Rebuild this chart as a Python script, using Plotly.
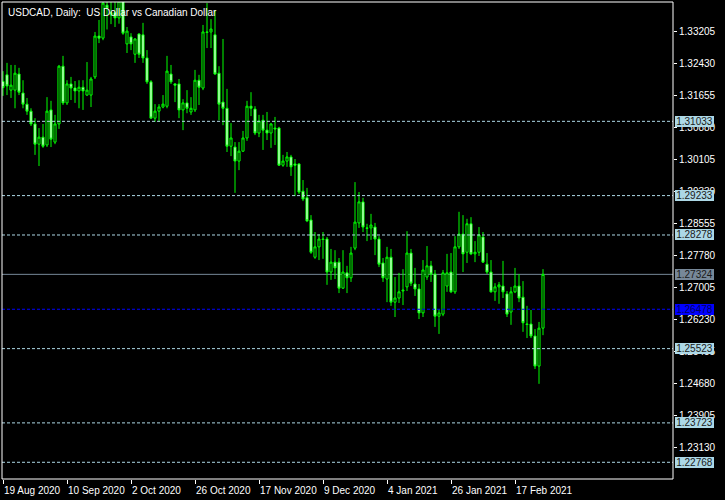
import pandas as pd
import plotly.graph_objects as go

# ---- data (USDCAD daily) ----
open_ = [1.3200,1.3216,1.3179,1.3179,1.3218,1.3172,1.3145,1.3128,1.3097,1.3048,
         1.3065,1.3046,1.3131,1.3053,1.3097,1.3237,1.3148,1.3194,1.3184,1.3177,
         1.3186,1.3167,1.3167,1.3211,1.3310,1.3305,1.3385,1.3361,1.3367,1.3354,
         1.3395,1.3291,1.3308,1.3266,1.3315,1.3313,1.3257,1.3199,1.3111,1.3128,
         1.3138,1.3140,1.3218,1.3194,1.3194,1.3131,1.3148,1.3126,1.3131,1.3203,
         1.3184,1.3320,1.3320,1.3313,1.3220,1.3150,1.3135,1.3043,1.3041,1.3007,
         1.3031,1.3063,1.3140,1.3133,1.3075,1.3106,1.3082,1.3075,1.3087,1.3087,
         1.2997,1.3007,1.3017,1.3000,1.3000,1.2934,1.2918,1.2864,1.2774,1.2799,
         1.2818,1.2818,1.2738,1.2762,1.2762,1.2699,1.2736,1.2724,1.2796,1.2857,
         1.2908,1.2845,1.2845,1.2847,1.2818,1.2760,1.2721,1.2774,1.2665,1.2675,
         1.2692,1.2702,1.2784,1.2709,1.2697,1.2639,1.2726,1.2753,1.2733,1.2631,
         1.2636,1.2704,1.2738,1.2690,1.2799,1.2830,1.2786,1.2855,1.2782,1.2786,
         1.2823,1.2757,1.2738,1.2690,1.2702,1.2704,1.2685,1.2641,1.2690,1.2704,
         1.2677,1.2612,1.2612,1.2583,1.2510,1.2602]
high = [1.3225,1.3245,1.3240,1.3240,1.3233,1.3203,1.3160,1.3135,1.3111,1.3087,
        1.3097,1.3162,1.3153,1.3119,1.3240,1.3262,1.3203,1.3211,1.3201,1.3203,
        1.3203,1.3247,1.3211,1.3320,1.3349,1.3410,1.3420,1.3398,1.3400,1.3410,
        1.3405,1.3332,1.3317,1.3305,1.3317,1.3342,1.3276,1.3203,1.3145,1.3145,
        1.3167,1.3262,1.3240,1.3196,1.3206,1.3157,1.3179,1.3162,1.3228,1.3216,
        1.3337,1.3390,1.3351,1.3373,1.3237,1.3303,1.3182,1.3099,1.3053,1.3053,
        1.3080,1.3153,1.3174,1.3140,1.3119,1.3119,1.3126,1.3099,1.3114,1.3090,
        1.3022,1.3029,1.3022,1.3012,1.3002,1.2961,1.2942,1.2876,1.2835,1.2830,
        1.2835,1.2823,1.2794,1.2791,1.2772,1.2791,1.2753,1.2799,1.2956,1.2932,
        1.2918,1.2855,1.2879,1.2857,1.2825,1.2772,1.2799,1.2794,1.2726,1.2736,
        1.2745,1.2837,1.2794,1.2748,1.2709,1.2767,1.2801,1.2765,1.2743,1.2648,
        1.2743,1.2782,1.2784,1.2825,1.2884,1.2876,1.2867,1.2871,1.2813,1.2847,
        1.2835,1.2784,1.2767,1.2711,1.2714,1.2765,1.2692,1.2702,1.2748,1.2733,
        1.2716,1.2656,1.2646,1.2600,1.2617,1.2745]
low = [1.3165,1.3167,1.3160,1.3135,1.3167,1.3135,1.3119,1.3092,1.3022,1.2995,
       1.3039,1.3041,1.3041,1.3048,1.3085,1.3143,1.3143,1.3155,1.3148,1.3135,
       1.3131,1.3165,1.3138,1.3206,1.3293,1.3300,1.3326,1.3339,1.3332,1.3340,
       1.3313,1.3269,1.3276,1.3245,1.3257,1.3245,1.3194,1.3111,1.3102,1.3102,
       1.3135,1.3135,1.3194,1.3150,1.3111,1.3082,1.3123,1.3119,1.3126,1.3143,
       1.3179,1.3281,1.3281,1.3216,1.3106,1.3094,1.3029,1.3019,1.2930,1.2985,
       1.3029,1.3056,1.3116,1.3070,1.3065,1.3034,1.3058,1.3039,1.3046,1.2995,
       1.2993,1.2993,1.2971,1.2922,1.2927,1.2910,1.2859,1.2782,1.2770,1.2767,
       1.2770,1.2707,1.2719,1.2721,1.2687,1.2697,1.2687,1.2714,1.2791,1.2845,
       1.2835,1.2813,1.2816,1.2779,1.2750,1.2714,1.2665,1.2656,1.2629,1.2663,
       1.2658,1.2692,1.2704,1.2680,1.2624,1.2629,1.2719,1.2714,1.2605,1.2588,
       1.2631,1.2690,1.2687,1.2685,1.2794,1.2738,1.2760,1.2779,1.2762,1.2777,
       1.2760,1.2733,1.2688,1.2668,1.2661,1.2675,1.2629,1.2610,1.2687,1.2665,
       1.2593,1.2578,1.2578,1.2503,1.2467,1.2585]
close = [1.3185,1.3189,1.3191,1.3220,1.3174,1.3145,1.3128,1.3097,1.3048,1.3065,
         1.3043,1.3128,1.3060,1.3097,1.3237,1.3148,1.3194,1.3184,1.3177,1.3186,
         1.3177,1.3179,1.3206,1.3310,1.3305,1.3390,1.3378,1.3367,1.3354,1.3395,
         1.3317,1.3322,1.3291,1.3303,1.3266,1.3257,1.3199,1.3111,1.3128,1.3138,
         1.3145,1.3225,1.3199,1.3191,1.3131,1.3148,1.3135,1.3135,1.3203,1.3186,
         1.3320,1.3319,1.3327,1.3218,1.3145,1.3135,1.3043,1.3063,1.3007,1.3031,
         1.3063,1.3140,1.3135,1.3075,1.3104,1.3082,1.3075,1.3097,1.3085,1.2997,
         1.3007,1.3017,1.2993,1.2997,1.2932,1.2915,1.2862,1.2786,1.2799,1.2818,
         1.2817,1.2738,1.2762,1.2748,1.2699,1.2738,1.2724,1.2784,1.2859,1.2908,
         1.2847,1.2844,1.2852,1.2818,1.2757,1.2724,1.2774,1.2665,1.2675,1.2690,
         1.2694,1.2784,1.2711,1.2697,1.2639,1.2743,1.2753,1.2733,1.2631,1.2639,
         1.2736,1.2736,1.2690,1.2799,1.2830,1.2782,1.2855,1.2782,1.2786,1.2828,
         1.2762,1.2738,1.2690,1.2702,1.2707,1.2690,1.2636,1.2690,1.2704,1.2675,
         1.2615,1.2611,1.2583,1.2510,1.2602,1.27324]

holidays = ["2020-12-25", "2021-01-01"]
dates = [d for d in pd.bdate_range("2020-08-19", "2021-02-26") if d.strftime("%Y-%m-%d") not in holidays]

date_tick_labels = ["19 Aug 2020", "10 Sep 2020", "2 Oct 2020", "26 Oct 2020", "17 Nov 2020",
                    "9 Dec 2020", "4 Jan 2021", "26 Jan 2021", "17 Feb 2021"]
price_ticks = [1.33205, 1.32430, 1.31655, 1.30880, 1.30105, 1.29330, 1.28555, 1.27780,
               1.27005, 1.26230, 1.25455, 1.24680, 1.23905, 1.23130]
levels = [1.31033, 1.29233, 1.28278, 1.25523, 1.23723, 1.22768]
bid_level = 1.27324
blue_level = 1.26478
title_text = "USDCAD, Daily:  US Dollar vs Canadian Dollar"

# ---- figure ----
xs = list(range(len(dates)))
date_str = [f"{d.day} {d.strftime('%b %Y')}" for d in dates]
tick_pos = [date_str.index(t) for t in date_tick_labels]

FONT = "Liberation Sans"
GREEN = "#00ff00"

fig = go.Figure()
fig.add_trace(go.Candlestick(
    x=xs, open=open_, high=high, low=low, close=close,
    increasing=dict(line=dict(color=GREEN, width=1), fillcolor="#000000"),
    decreasing=dict(line=dict(color=GREEN, width=1), fillcolor="#ffffff"),
    whiskerwidth=0, hoverinfo="skip", showlegend=False,
))

shapes = []
for lv in levels:
    shapes.append(dict(type="line", xref="paper", x0=0, x1=1, yref="y", y0=lv, y1=lv,
                       line=dict(color="#add8e6", width=1, dash="3px,2px"), layer="above"))
shapes.append(dict(type="line", xref="paper", x0=0, x1=1, yref="y", y0=bid_level, y1=bid_level,
                   line=dict(color="#778899", width=1), layer="below"))
shapes.append(dict(type="line", xref="paper", x0=0, x1=1, yref="y", y0=blue_level, y1=blue_level,
                   line=dict(color="#0000ff", width=1, dash="3px,2px"), layer="above"))
# white frame
shapes.append(dict(type="rect", xref="paper", yref="paper", x0=0, x1=1, y0=0, y1=1,
                   line=dict(color="#ffffff", width=1), layer="above"))

annotations = []
def level_label(val, bg, fg):
    return dict(xref="paper", x=1, xanchor="left", xshift=2, yref="y", y=val, yanchor="middle",
                text=f"{val:.5f}", showarrow=False, bgcolor=bg, width=39, height=11,
                borderpad=0, borderwidth=0, align="center",
                font=dict(family=FONT, size=10, color=fg))
for lv in levels:
    annotations.append(level_label(lv, "#add8e6", "#1a1a1a"))
annotations.append(level_label(bid_level, "#778899", "#1a1a1a"))
annotations.append(level_label(blue_level, "#0000ff", "#000060"))

for pos, lab in zip(tick_pos, date_tick_labels):
    annotations.append(dict(xref="x", x=pos, xanchor="left", xshift=-1, yref="paper", y=0,
                            yanchor="top", yshift=-4, text=lab, showarrow=False,
                            font=dict(family=FONT, size=10, color="#ffffff")))

annotations.append(dict(xref="paper", x=0, xanchor="left", xshift=4, yref="paper", y=1,
                        yanchor="top", yshift=-3, text=title_text, showarrow=False,
                        font=dict(family=FONT, size=10, color="#ffffff")))

fig.update_layout(
    width=725, height=500,
    margin=dict(l=2, r=52, t=2, b=21),
    paper_bgcolor="#000000", plot_bgcolor="#000000",
    boxgap=0.25,
    shapes=shapes, annotations=annotations,
    xaxis=dict(range=[-0.25, 167.5], showgrid=False, zeroline=False,
               rangeslider=dict(visible=False), tickmode="array", tickvals=tick_pos,
               showticklabels=False, ticks="outside", ticklen=4, tickcolor="#ffffff",
               showline=False),
    yaxis=dict(range=[1.22363, 1.33926], side="right", showgrid=False, zeroline=False,
               tickmode="array", tickvals=price_ticks, ticktext=[f"{v:.5f}" for v in price_ticks],
               ticks="outside", ticklen=3, tickcolor="#ffffff",
               tickfont=dict(family=FONT, size=10, color="#ffffff"), showline=False),
    font=dict(family=FONT, color="#ffffff"),
)

fig.write_html("out.html", config={"displayModeBar": False},
               post_script="document.body.style.margin='0';")
